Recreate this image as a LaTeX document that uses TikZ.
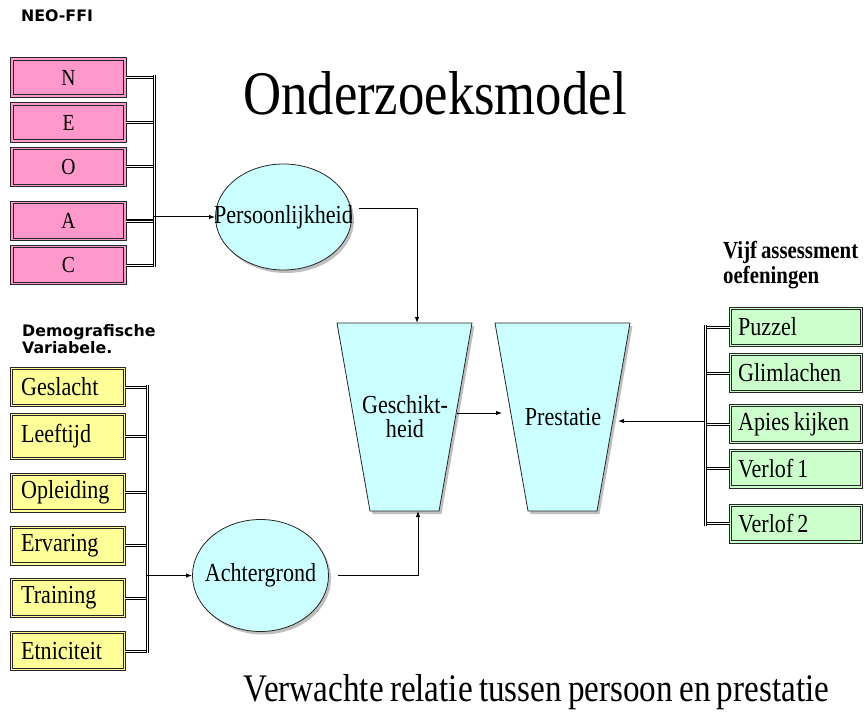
\documentclass[tikz,border=0pt]{standalone}
\usepackage{fontspec}
\setmainfont{Liberation Serif}[FakeStretch=0.85, WordSpace=0.75]
\newfontfamily\labelfont{DejaVu Sans}
\usepackage{tikz}
\usetikzlibrary{shapes.geometric, arrows.meta, positioning, shadows}

\definecolor{neopink}{RGB}{255,153,204}
\definecolor{demoyellow}{RGB}{255,255,153}
\definecolor{taskgreen}{RGB}{204,255,204}
\definecolor{latentcyan}{RGB}{204,255,255}

\begin{document}
\begin{tikzpicture}[
    x=1pt, y=-1pt,
    >={Latex[length=6pt,width=4.5pt]},
    boxfont/.style={font=\fontsize{26}{26}\selectfont},
    neobox/.style={draw=black!85, double=neopink, double distance=1.2pt, line width=1pt, fill=neopink, minimum width=113pt, minimum height=37pt, inner sep=0pt, font=\fontsize{23}{23}\selectfont},
    demobox/.style={draw=black!85, double=demoyellow, double distance=1.2pt, line width=1pt, fill=demoyellow, minimum width=112.8pt, minimum height=36.8pt, inner xsep=9.5pt, inner ysep=0pt, text width=93.8pt, align=flush left, boxfont},
    taskbox/.style={draw=black!85, double=taskgreen, double distance=1.2pt, line width=1pt, fill=taskgreen, minimum width=130.8pt, minimum height=36.8pt, inner xsep=7.5pt, inner ysep=0pt, text width=115.8pt, align=flush left, boxfont},
    latent/.style={ellipse, draw=black!85, line width=0.8pt, fill=latentcyan, minimum width=136pt, minimum height=108pt, inner sep=0pt, boxfont, drop shadow={shadow xshift=2.5pt, shadow yshift=-3pt, opacity=0.5}},
    trapshape/.style={draw=black!85, fill=latentcyan, line width=0.8pt, drop shadow={shadow xshift=2.5pt, shadow yshift=-3pt, opacity=0.5}},
    branch/.style={draw=black, double=white, double distance=1pt, line width=1pt},
    bus/.style={branch, shorten <=-2pt, shorten >=-2pt},
    link/.style={->, line width=1pt},
    headnote/.style={inner sep=0pt, font=\labelfont\bfseries\fontsize{15.8}{17}\selectfont, align=left}
]
\useasboundingbox (0,0) rectangle (866,711);

% Titles
\node[inner sep=0pt, anchor=base, font=\fontsize{62}{62}\selectfont] (title) at (435,115) {Onderzoeksmodel};
\node[inner sep=0pt, anchor=base, font=\fontsize{39}{39}\selectfont] (caption) at (536.5,701) {Verwachte relatie tussen persoon en prestatie};

% NEO-FFI group
\node[headnote, anchor=base west] (neohead) at (21,22) {NEO-FFI};
\node[neobox] (N) at (68.5,77.5) {N};
\node[neobox] (E) at (68.5,122.5) {E};
\node[neobox] (O) at (68.5,167) {O};
\node[neobox] (A) at (68.5,221) {A};
\node[neobox] (C) at (68.5,265) {C};
\coordinate (neobus) at (154,0);
\foreach \b in {N,E,O,A,C}
    \draw[branch] (\b.east) -- (\b.east -| neobus);
\draw[bus] (neobus |- N.east) -- (neobus |- C.east);

% Demografische group
\node[headnote, anchor=north west] (demohead) at (22,324) {Demografische\\Variabele.};
\node[demobox] (geslacht) at (68,387) {Geslacht};
\node[demobox, minimum height=44pt] (leeftijd) at (68,436.5) {Leeftijd};
\node[demobox] (opleiding) at (68,492.5) {Opleiding};
\node[demobox] (ervaring) at (68,545.5) {Ervaring};
\node[demobox] (training) at (68,598) {Training};
\node[demobox] (etniciteit) at (68,651) {Etniciteit};
\coordinate (demobus) at (147,0);
\foreach \b in {geslacht,leeftijd,opleiding,ervaring,training,etniciteit}
    \draw[branch] (\b.east) -- (\b.east -| demobus);
\draw[bus] (demobus |- geslacht.east) -- (demobus |- etniciteit.east);

% Assessment group
\node[inner sep=0pt, anchor=north west, align=left, font=\bfseries\fontsize{24.5}{25}\selectfont] (taskhead) at (723,241) {Vijf assessment\\oefeningen};
\node[taskbox] (puzzel) at (796,327) {Puzzel};
\node[taskbox] (glimlachen) at (796,373) {Glimlachen};
\node[taskbox] (apies) at (796,424) {Apies kijken};
\node[taskbox] (verlofI) at (796,468.5) {Verlof 1};
\node[taskbox] (verlofII) at (796,523.5) {Verlof 2};
\coordinate (taskbus) at (705,0);
\foreach \b in {puzzel,glimlachen,apies,verlofI,verlofII}
    \draw[branch] (\b.west) -- (\b.west -| taskbus);
\draw[bus] (taskbus |- puzzel.west) -- (taskbus |- verlofII.west);

% Latent variables
\node[latent, minimum height=106pt] (pers) at (283.5,217) {\makebox[0pt]{Persoonlijkheid}};
\node[latent, minimum height=112pt] (achter) at (260.5,575.5) {\makebox[0pt]{Achtergrond}};

% Geschiktheid and Prestatie
\draw[trapshape] (337,323) -- (472,323) -- (439,511) -- (370,511) -- cycle;
\draw[trapshape] (495,323) -- (630,323) -- (597,511) -- (528,511) -- cycle;
\node[inner sep=0pt, align=center, font=\fontsize{26}{24}\selectfont] (gesch) at (405,417) {Geschikt-\\heid};
\node[inner sep=0pt, boxfont] (prest) at (563,417.5) {Prestatie};
\coordinate (gtop) at (417,323);
\coordinate (gbot) at (418,511);
\coordinate (gright) at (457,413);
\coordinate (pleft) at (502,413);
\coordinate (pright) at (618,421);

% Connectors
\draw[link] (pers.west -| neobus) -- (pers.west);
\draw[link] (achter.west -| demobus) -- (achter.west);
\draw[link] ([xshift=7pt,yshift=8pt]pers.east) -| (gtop);
\draw[link] ([xshift=9pt]achter.east) -| (gbot);
\draw[link] (gright) -- (pleft);
\draw[link] (pright -| taskbus) -- (pright);

\end{tikzpicture}
\end{document}
